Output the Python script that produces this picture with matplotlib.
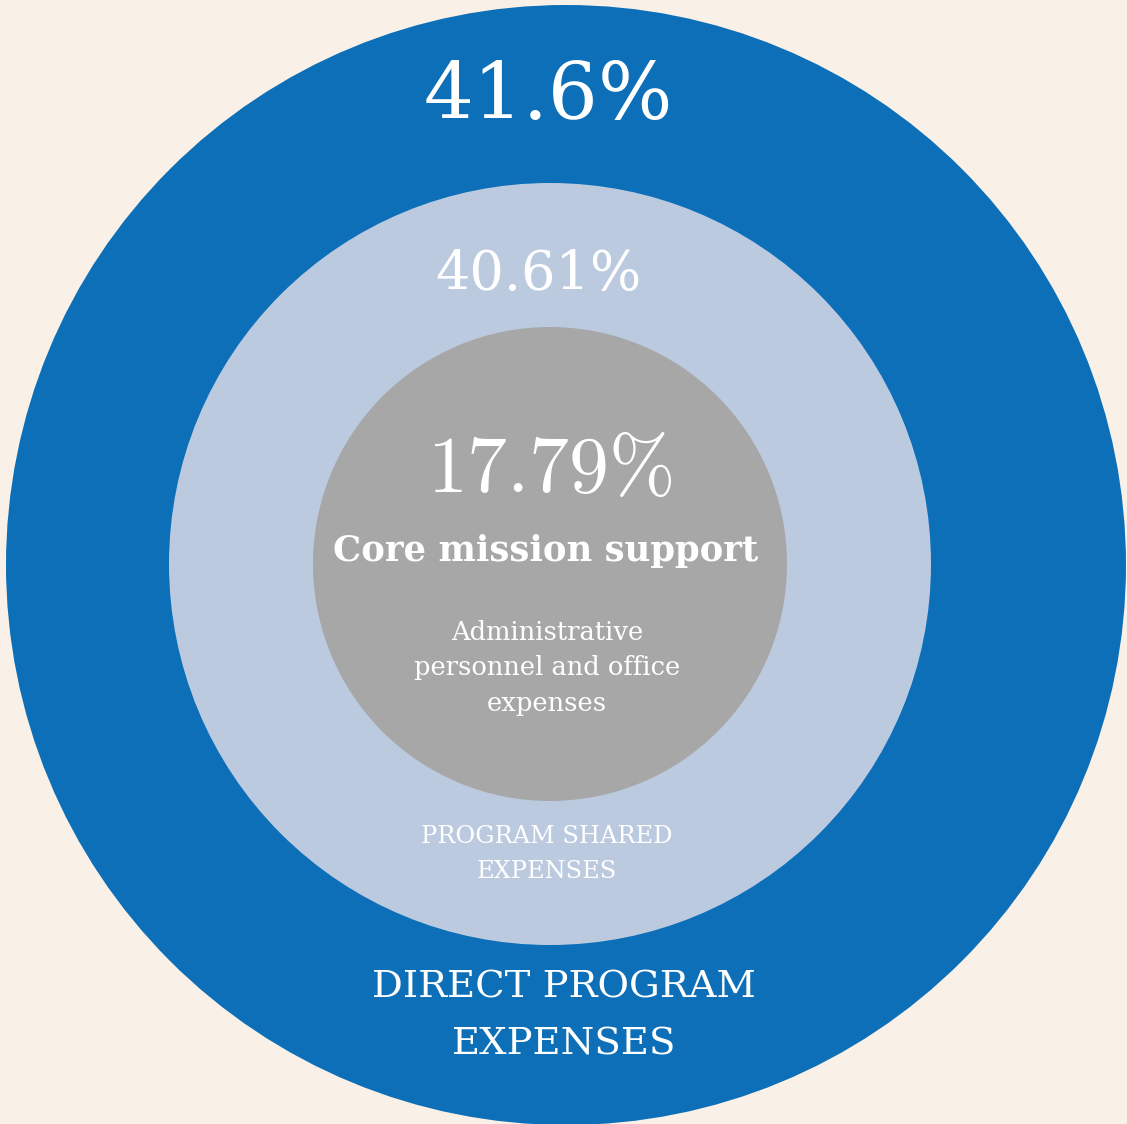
import matplotlib.pyplot as plt
from matplotlib.patches import Circle

# shares of spending, outer ring to centre
shares = [41.6, 40.61, 17.79]
share_labels = ["41.6%", "40.61%", r"$17.79\%$"]
ring_names = ["DIRECT PROGRAM\nEXPENSES", "PROGRAM SHARED\nEXPENSES", "Core mission support"]
core_note = "Administrative\npersonnel and office\nexpenses"

ring_colors = ["#0C6FB8", "#BCCAE0", "#A7A7A7"]
bg = "#F9F1E8"

plt.rcParams["mathtext.fontset"] = "cm"

fig = plt.figure(figsize=(11.27, 11.24), dpi=100, facecolor=bg)
ax = fig.add_axes([0, 0, 1, 1])
ax.set_xlim(0, 1127)
ax.set_ylim(1124, 0)
ax.set_facecolor(bg)
ax.axis("off")

# circles (pixel layout of the original)
centers = [(566, 565), (550, 564), (550, 564)]
radii = [560, 381, 237]
for c, r, col in zip(centers, radii, ring_colors):
    ax.add_patch(Circle(c, r, facecolor=col, edgecolor="none"))

serif = "DejaVu Serif"

# percentages
ax.text(548, 97, share_labels[0], ha="center", va="center", color="white",
        fontsize=56.5, family=serif)
ax.text(539, 275, share_labels[1], ha="center", va="center", color="white",
        fontsize=39, family=serif)
ax.text(550, 470, share_labels[2], ha="center", va="center", color="white",
        fontsize=57.5)

# names
ax.text(546, 551, ring_names[2], ha="center", va="center", color="white",
        fontsize=25.5, family=serif, fontweight="semibold")
ax.text(547, 668, core_note, ha="center", va="center", color="white",
        fontsize=18.5, family=serif, linespacing=1.5)
ax.text(547, 854, ring_names[1], ha="center", va="center", color="white",
        fontsize=17.4, family=serif, linespacing=1.62)
ax.text(564, 1016, ring_names[0], ha="center", va="center", color="white",
        fontsize=27.7, family=serif, linespacing=1.76)

fig.savefig("out.png", dpi=100, facecolor=bg)
